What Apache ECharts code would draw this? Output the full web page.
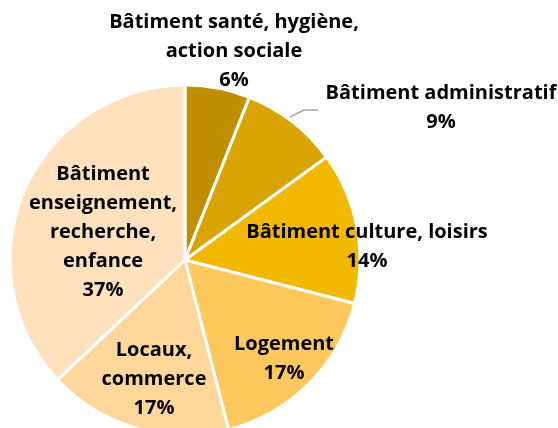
<!DOCTYPE html>
<html>
<head>
<meta charset="utf-8">
<script src="https://cdn.jsdelivr.net/npm/echarts@6/dist/echarts.min.js"></script>
<style>
  html, body { margin: 0; padding: 0; background: #fff; }
</style>
</head>
<body>
<div id="main" style="width: 558px;height:428px;"></div>
<script>
// categories and shares (%)
var categories = [
  'Bâtiment santé, hygiène,\naction sociale',
  'Bâtiment administratif',
  'Bâtiment culture, loisirs',
  'Logement',
  'Locaux,\ncommerce',
  'Bâtiment\nenseignement,\nrecherche,\nenfance'
];
var shares = [6, 9, 14, 17, 17, 37];

var colors = ['#BF8F00', '#DAA400', '#F2B800', '#FFC85C', '#FFD79A', '#FFE1BE'];
// where each label sits (centre of text block)
var labelSpots = [[234, 51], [441, 108], [367, 247], [284, 359], [154, 379], [103, 232]];

var myChart = echarts.init(document.getElementById('main'));

var data = categories.map(function (name, i) {
  var item = { name: name, value: shares[i], itemStyle: { color: colors[i] } };
  if (i < 2) {
    item.label = { position: 'outside' };
    item.labelLine = { show: i === 1, lineStyle: { color: '#A6A6A6', width: 1.5 } };
  }
  return item;
});

var option = {
  animation: false,
  series: [
    {
      type: 'pie',
      center: [185, 260],
      radius: 175,
      startAngle: 90,
      clockwise: true,
      avoidLabelOverlap: false,
      itemStyle: { borderColor: '#fff', borderWidth: 3 },
      label: {
        show: true,
        position: 'inside',
        formatter: '{b}\n{d}%',
        color: '#000',
        fontFamily: 'Open Sans',
        fontWeight: 'bold',
        fontSize: 20,
        lineHeight: 29,
        align: 'center'
      },
      labelLine: { show: false },
      labelLayout: function (params) {
        var p = labelSpots[params.dataIndex];
        var out = { x: p[0], y: p[1], align: 'center', verticalAlign: 'middle' };
        if (params.dataIndex === 1) {
          out.labelLinePoints = [[290, 117], [304, 110], [318, 110]];
        }
        return out;
      },
      data: data
    }
  ]
};
myChart.setOption(option);
</script>
</body>
</html>
